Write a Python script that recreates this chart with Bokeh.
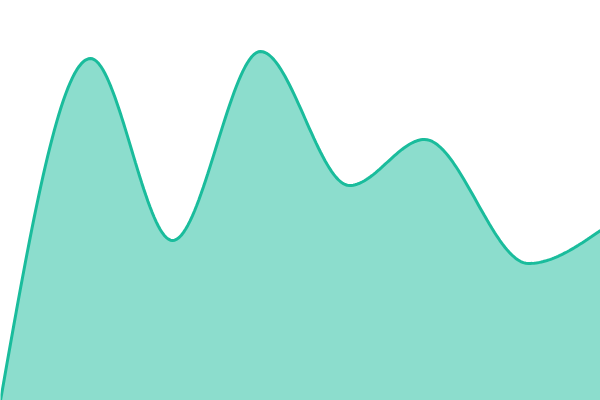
import numpy as np
from bokeh.plotting import figure
from bokeh.models import Range1d
from bokeh.embed import file_html
from bokeh.resources import INLINE

# data
xs = [0, 90, 172, 260, 349, 424, 528, 600]
ys = [0, 342, 160, 349, 215, 261, 137, 170]

LINE = "#1abc9c"


def monotone_x(x, y, n=40):
    """d3-style curveMonotoneX rendering of the data points."""
    x = np.asarray(x, float)
    y = np.asarray(y, float)
    h = np.diff(x)
    s = np.diff(y) / h
    m = np.zeros_like(y)
    for i in range(1, len(x) - 1):
        h0, h1 = h[i - 1], h[i]
        s0, s1 = s[i - 1], s[i]
        p = (s0 * h1 + s1 * h0) / (h0 + h1)
        m[i] = (np.sign(s0) + np.sign(s1)) * min(abs(s0), abs(s1), 0.5 * abs(p))
    m[0] = (3 * s[0] - m[1]) / 2
    m[-1] = (3 * s[-1] - m[-2]) / 2
    ox, oy = [], []
    for i in range(len(x) - 1):
        t = np.linspace(0, 1, n, endpoint=(i == len(x) - 2))
        hh = h[i]
        h00 = 2 * t**3 - 3 * t**2 + 1
        h10 = t**3 - 2 * t**2 + t
        h01 = -2 * t**3 + 3 * t**2
        h11 = t**3 - t**2
        ox.extend(x[i] + t * hh)
        oy.extend(h00 * y[i] + h10 * hh * m[i] + h01 * y[i + 1] + h11 * hh * m[i + 1])
    return np.array(ox), np.array(oy)


cx, cy = monotone_x(xs, ys)

p = figure(width=600, height=400, output_backend="svg", toolbar_location=None,
           x_range=Range1d(0, 600), y_range=Range1d(0, 400),
           min_border=0, outline_line_color=None)
p.axis.visible = False
p.grid.visible = False
p.background_fill_color = "white"
p.border_fill_color = "white"

p.varea(x=cx, y1=np.zeros_like(cy), y2=cy, fill_color=LINE, fill_alpha=0.5)
p.line(cx, cy, line_color=LINE, line_width=3)

open("out.html", "w").write(file_html(p, INLINE))
